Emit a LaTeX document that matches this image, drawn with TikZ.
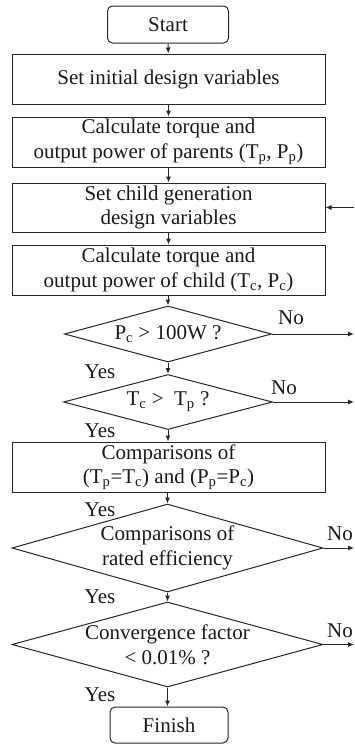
\documentclass[tikz,border=0pt]{standalone}
\usepackage{fontspec}
\setmainfont{Liberation Serif}
\usetikzlibrary{shapes.geometric,arrows.meta}
\begin{document}
\begin{tikzpicture}[x=1pt,y=-1pt,
  every node/.style={font=\fontsize{21}{24.5}\selectfont, text=black!90},
  ln/.style={draw=black!85, line width=1pt},
  box/.style={ln, rectangle, minimum width=313pt, minimum height=50pt, align=center, inner sep=0pt},
  term/.style={ln, rectangle, rounded corners=5pt, inner sep=0pt},
  dia/.style={ln, diamond, inner sep=0pt},
  arr/.style={draw=black!85, line width=1pt, -{Latex[length=6pt,width=5pt]}},
  lab/.style={inner sep=0pt}
]
\useasboundingbox (0,0) rectangle (355,745);
\coordinate (rx) at (354,0);
\node[term, minimum width=121pt, minimum height=37pt] (start) at (168,24.5) {Start};
\node[box] (b1) at (168.5,79) {Set initial design variables};
\node[box] (b2) at (168.5,142) {Calculate torque and\\output power of parents (T\textsubscript{p}, P\textsubscript{p})};
\node[box, minimum height=49pt] (b3) at (168.5,207.5) {Set child generation\\design variables};
\node[box] (b4) at (168.5,270) {Calculate torque and\\output power of child (T\textsubscript{c}, P\textsubscript{c})};
\node[dia, minimum width=207pt, minimum height=56pt, label={[lab]center:P\textsubscript{c} > 100W ?}] (d1) at (168,334) {};
\node[dia, minimum width=209pt, minimum height=55pt, label={[lab]center:T\textsubscript{c} >~ T\textsubscript{p} ?}] (d2) at (168,402) {};
\node[box] (b5) at (168.5,467) {Comparisons of\\(T\textsubscript{p}=T\textsubscript{c}) and (P\textsubscript{p}=P\textsubscript{c})};
\node[dia, minimum width=311pt, minimum height=88pt, label={[lab, align=center]center:Comparisons of\\rated efficiency}] (d3) at (167.5,548) {};
\node[dia, minimum width=311pt, minimum height=85pt, label={[lab, align=center]center:Convergence factor\\< 0.01\% ?}] (d4) at (167.5,644.5) {};
\node[term, minimum width=118pt, minimum height=36pt] (fin) at (169,725) {Finish};

\draw[arr] (start) -- (b1);
\draw[arr] (b1) -- (b2);
\draw[arr] (b2) -- (b3);
\draw[arr] (b3) -- (b4);
\draw[arr] (b4.south -| d1.north) -- (d1.north);
\draw[arr] (d1.south) -- (d2.north);
\draw[arr] (d2.south) -- (b5.north -| d2.south);
\draw[arr] (b5.south -| d3.north) -- (d3.north);
\draw[arr] (d3.south) -- (d4.north);
\draw[arr] (d4.south) -- (fin.north -| d4.south);

\draw[arr] (d1.east) -- (d1.east -| rx);
\draw[arr] (d2.east) -- (d2.east -| rx);
\draw[arr] (d3.east) -- (d3.east -| rx);
\draw[arr] (d4.east) -- (d4.east -| rx);
\draw[arr] (b3.east -| rx) -- (b3.east);

\node[lab] (y1) at (100,372) {Yes};
\node[lab] (y2) at (100,431) {Yes};
\node[lab] (y3) at (100,510) {Yes};
\node[lab] (y4) at (100,597) {Yes};
\node[lab] (y5) at (100,695) {Yes};
\node[lab] (n1) at (291,318) {No};
\node[lab] (n2) at (284,388) {No};
\node[lab] (n3) at (340,534) {No};
\node[lab] (n4) at (340,631) {No};
\end{tikzpicture}
\end{document}
